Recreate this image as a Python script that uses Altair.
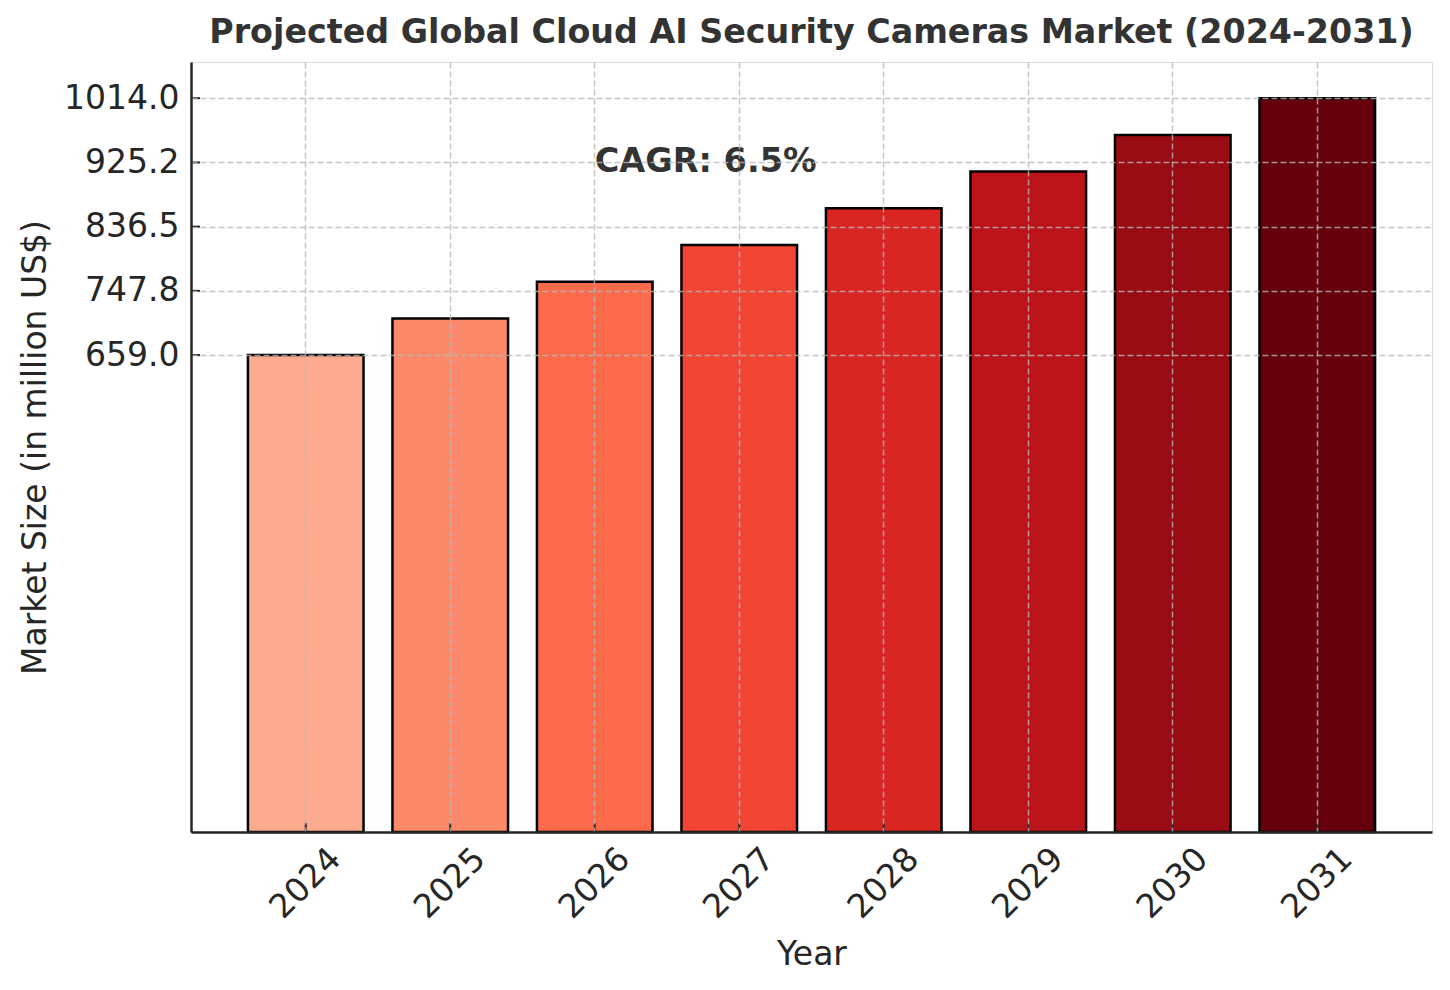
import altair as alt
import pandas as pd

years = ["2024", "2025", "2026", "2027", "2028", "2029", "2030", "2031"]
market_size = [659.0, 709.7, 760.4, 811.1, 861.9, 912.6, 963.3, 1014.0]
bar_colors = ["#fcab8e", "#fc8a6a", "#fb6a4a", "#f14432",
              "#d92623", "#bc141a", "#990c13", "#67000d"]
y_ticks = [659.0, 747.8, 836.5, 925.2, 1014.0]
cagr_label = "CAGR: 6.5%"

W, H = 1241, 770
FONT = "DejaVu Sans"
INK = "#262626"
FS = 33

bars_df = pd.DataFrame({"year": years, "size": market_size, "color": bar_colors})
ticks_df = pd.DataFrame({"tick": y_ticks})
note_df = pd.DataFrame({"year": [years[2]], "size": [market_size[5]], "label": [cagr_label]})

x_scale = alt.Scale(domain=years, paddingInner=0.2, paddingOuter=0.394)
y_scale = alt.Scale(domain=[0, 1064], nice=False, zero=True)

x_axis = alt.Axis(
    title="Year", labelAngle=-45, labelAlign="center", labelBaseline="middle",
    labelPadding=51, ticks=False, grid=True, bandPosition=0.5,
    gridColor="#b8b8b8", gridDash=[6, 3], gridWidth=1.5, gridOpacity=0.8,
    domainColor=INK, domainWidth=2.5, labelFont=FONT, labelFontSize=FS,
    labelColor=INK, titleFont=FONT, titleFontSize=FS, titleFontWeight="normal",
    titleColor=INK, titlePadding=14, zindex=1,
)
y_axis = alt.Axis(
    title="Market Size (in million US$)", values=y_ticks, format=".1f",
    ticks=False, grid=True, gridColor="#b8b8b8", gridDash=[6, 3],
    gridWidth=1.5, gridOpacity=0.8, domainColor=INK, domainWidth=2.5,
    labelFont=FONT, labelFontSize=FS, labelColor=INK, labelPadding=12,
    titleFont=FONT, titleFontSize=FS, titleFontWeight="normal",
    titleColor=INK, titlePadding=11, zindex=1,
)

bars = alt.Chart(bars_df).mark_bar(stroke="black", strokeWidth=2.5).encode(
    x=alt.X("year:N", scale=x_scale, axis=x_axis, sort=years),
    y=alt.Y("size:Q", scale=y_scale, axis=y_axis),
    color=alt.Color("color:N", scale=None),
)

# inward-facing tick marks on both axes
y_tick_marks = alt.Chart(ticks_df).mark_rule(color=INK, strokeWidth=2).encode(
    y=alt.Y("tick:Q", scale=y_scale),
    x=alt.value(0), x2=alt.value(9),
)
x_tick_marks = alt.Chart(bars_df).mark_rule(color=INK, strokeWidth=2).encode(
    x=alt.X("year:N", scale=x_scale, sort=years, bandPosition=0.5),
    y=alt.value(H - 9), y2=alt.value(H),
)

note = alt.Chart(note_df).mark_text(
    align="left", baseline="alphabetic", font=FONT, fontSize=33.5,
    fontWeight="bold", color="#333333",
).encode(
    x=alt.X("year:N", scale=x_scale, sort=years, bandPosition=0.5),
    y=alt.Y("size:Q", scale=y_scale),
    text="label:N",
)

chart = alt.layer(bars, y_tick_marks, x_tick_marks, note).properties(
    width=W, height=H,
    title=alt.TitleParams(
        "Projected Global Cloud AI Security Cameras Market (2024-2031)",
        font=FONT, fontSize=33.3, fontWeight="bold", color="#333333",
        anchor="middle", offset=12,
    ),
    autosize=alt.AutoSizeParams(type="none"),
    padding={"left": 191, "top": 62, "right": 18, "bottom": 158},
).configure_view(stroke=None).configure(background="white")

chart.save("out.html", embed_options={"renderer": "svg", "actions": False})
